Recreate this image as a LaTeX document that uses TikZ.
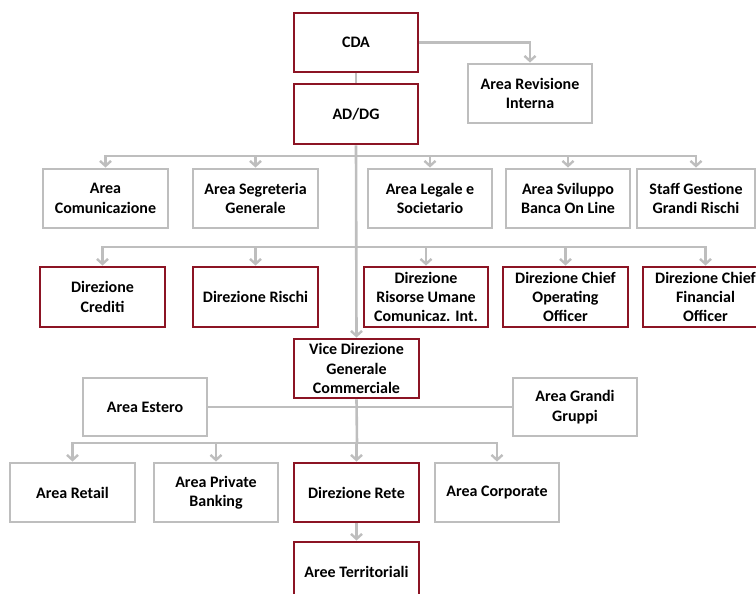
\documentclass[tikz,border=0pt]{standalone}
\usepackage{fontspec}
\setmainfont{Carlito}
\usetikzlibrary{arrows.meta}
\definecolor{redb}{RGB}{140,20,36}
\definecolor{grayb}{RGB}{190,190,190}
\begin{document}
\begin{tikzpicture}[x=1pt,y=-1pt,
  box/.style={draw, line width=2.9pt, fill=white, inner sep=0pt, align=center,
    font=\fontsize{16}{19.3}\selectfont\bfseries, text=black},
  redbox/.style={box, draw=redb},
  graybox/.style={box, draw=grayb},
  conn/.style={draw=grayb, line width=2.6pt},
  arr/.style={conn, -{Straight Barb[length=5pt,width=11pt,line width=2.4pt]}},
]
\useasboundingbox (0,0) rectangle (756,594);
% top
\node[redbox, minimum width=124, minimum height=59] (cda) at (356,42.5) {CDA};
\node[redbox, minimum width=124, minimum height=60] (ad) at (356,114) {AD/DG};
\node[graybox, minimum width=124, minimum height=59] (rev) at (530,93.5) {Area Revisione\\Interna};
% row 1
\node[graybox, minimum width=125, minimum height=59] (com) at (105.5,198.5) {Area\\Comunicazione};
\node[graybox, minimum width=125, minimum height=59] (seg) at (255.5,198.5) {Area Segreteria\\Generale};
\node[graybox, minimum width=124, minimum height=59] (leg) at (430,198.5) {Area Legale e\\Societario};
\node[graybox, minimum width=124, minimum height=59] (svi) at (568,198.5) {Area Sviluppo\\Banca On Line};
\node[graybox, minimum width=118, minimum height=59] (sta) at (696,198.5) {Staff Gestione\\Grandi Rischi};
% row 2
\node[redbox, minimum width=125, minimum height=60] (cre) at (102.5,297) {Direzione\\Crediti};
\node[redbox, minimum width=125, minimum height=60] (ris) at (255.5,297) {Direzione Rischi};
\node[redbox, minimum width=124, minimum height=60] (rum) at (426,297) {Direzione\\Risorse Umane\\Comunicaz. Int.};
\node[redbox, minimum width=125, minimum height=60] (coo) at (565.5,297) {Direzione Chief\\Operating\\Officer};
\node[redbox, minimum width=125, minimum height=60] (cfo) at (705.5,297) {Direzione Chief\\Financial\\Officer};
% vice
\node[redbox, minimum width=125, minimum height=59] (vice) at (356.5,368.5) {Vice Direzione\\Generale\\Commerciale};
\node[graybox, minimum width=124, minimum height=58] (est) at (145,407) {Area Estero};
\node[graybox, minimum width=124, minimum height=58] (gra) at (575,407) {Area Grandi\\Gruppi};
% row 3
\node[graybox, minimum width=125, minimum height=59] (ret) at (72.5,492.5) {Area Retail};
\node[graybox, minimum width=124, minimum height=59] (pri) at (216,492.5) {Area Private\\Banking};
\node[redbox, minimum width=125, minimum height=59] (rete) at (356.5,492.5) {Direzione Rete};
\node[graybox, minimum width=124, minimum height=59] (cor) at (497,492.5) {Area Corporate};
\node[redbox, minimum width=125, minimum height=60] (ter) at (356.5,572) {Aree Territoriali};
% junctions
\coordinate (j1) at (357,156);
\coordinate (j2) at (357,247);
\coordinate (j3) at (357,443);
% connectors
\draw[conn] (cda.south) -- (ad.north);
\draw[arr] (cda.east) -| (rev.north);
\draw[arr] (ad.south) -- (vice.north);
\foreach \n in {com,seg,leg,svi,sta} \draw[arr] (j1) -| (\n.north);
\foreach \n in {cre,ris,rum,coo,cfo} \draw[arr] (j2) -| (\n.north);
\draw[conn] (est.east) -- (gra.west);
\draw[conn] (vice.south) -- (j3);
\foreach \n in {ret,pri,rete,cor} \draw[arr] (j3) -| (\n.north);
\draw[arr] (rete.south) -- (ter.north);
\end{tikzpicture}
\end{document}
